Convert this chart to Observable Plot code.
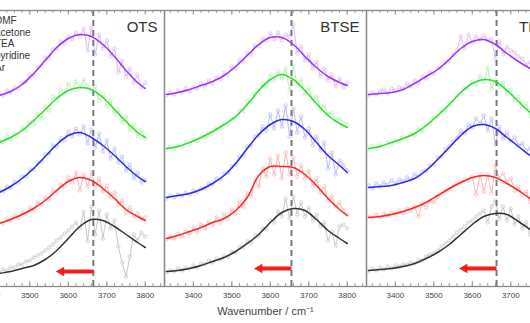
<!DOCTYPE html>
<html><head><meta charset="utf-8">
<script src="https://cdn.jsdelivr.net/npm/d3@7"></script>
<script src="https://cdn.jsdelivr.net/npm/@observablehq/plot@0.6"></script>
<style>
html,body{margin:0;padding:0;background:#fff;}
#wrap{position:relative;width:530px;height:323px;overflow:hidden;background:#fff;}
#wrap svg{position:absolute;top:0;}
</style></head><body><div id="wrap"></div>
<script>
// ---- data ----
const solvents = ["DMF", "acetone", "TEA", "pyridine", "Ar"];
const panelNames = ["OTS", "BTSE", "TMCS"];
const refPeak = [3665, 3655, 3663];      // dashed reference line (cm-1)
const arrowLevel = [15, 18, 18];         // arrow height (a.u.)
const arrowShift = 97;                   // arrow length (cm-1)
const tickLabels = [3400, 3500, 3600, 3700, 3800];
const axisTitle = "Wavenumber / cm\u207B\u00B9";

const wn = [3330,3340,3350,3360,3370,3380,3390,3400,3410,3420,3430,3440,3450,3460,3470,3480,3490,3500,3510,3520,3530,3540,3550,3560,3570,3580,3590,3600,3610,3620,3630,3640,3650,3660,3670,3680,3690,3700,3710,3720,3730,3740,3750,3760,3770,3780,3790,3800];
const fitWn = [3330,3360,3390,3420,3450,3480,3510,3540,3570,3600,3630,3660,3690,3720,3750,3780,3800];

// OTS measured
const otsDMF = [184,188,186,189,187,190,188,192,189,193,191,196,194,199,198,204,205,212,211,219,221,229,228,237,238,245,243,250,247,254,250,258,236,259,232,252,238,246,230,238,214,226,210,218,204,212,199,204];
const otsAcetone = [134,138,135,139,137,141,138,143,141,147,144,150,147,153,152,159,156,165,162,173,168,180,176,190,186,197,192,203,196,205,199,207,201,195,200,186,192,180,186,172,177,164,170,156,162,150,156,148];
const otsTEA = [85,88,86,89,87,91,89,93,92,96,95,100,99,105,104,110,110,117,117,124,125,132,133,141,140,148,146,155,150,158,152,160,143,157,139,153,135,146,128,138,124,130,116,122,108,114,104,106];
const otsPyridine = [55,59,56,60,58,61,59,63,61,65,63,68,66,71,69,74,73,79,77,84,82,89,88,96,95,102,100,109,104,114,96,112,100,115,99,108,95,101,89,94,82,86,74,79,70,73,68,69];
const otsAr = [9,7,10,8,11,10,13,12,15,14,17,16,19,19,22,22,25,26,29,31,33,36,39,42,46,49,53,56,60,64,58,75,45,80,52,76,48,72,58,66,40,24,10,30,52,46,54,50];
// OTS fits
const otsDMFfit = [186,187,189,191,195,202,213,226,239,248,252,250,242,230,216,204,198];
const otsAcetoneFit = [136,137,140,144,149,156,166,177,188,196,199,197,189,177,165,154,149];
const otsTEAfit = [86,87,90,94,100,108,118,130,142,151,154,149,141,131,120,110,105];
const otsPyridineFit = [57,58,60,63,67,72,78,86,96,105,109,106,98,88,77,70,66];
const otsArFit = [8,9,11,13,15,18,21,27,36,48,60,67,66,60,52,44,39];

// BTSE measured
const btseDMF = [191,194,192,196,194,198,195,199,198,203,200,206,203,209,207,214,212,220,218,227,225,234,232,241,240,248,246,253,247,254,246,252,250,262,233,240,226,232,218,225,210,218,206,212,200,208,199,204];
const btseAcetone = [137,140,138,141,140,144,142,147,145,150,149,154,153,158,158,163,162,168,167,176,175,185,184,193,195,203,200,212,206,215,208,218,196,221,201,207,193,199,186,190,178,181,172,174,166,168,164,162];
const btseTEA = [88,91,89,92,91,94,92,96,95,98,98,103,102,108,107,113,114,120,122,130,131,140,141,150,151,160,156,172,158,176,160,181,150,178,154,170,149,158,141,150,136,144,118,134,112,126,121,116];
const btsePyridine = [47,50,48,53,50,55,52,59,54,62,58,65,61,69,64,72,68,77,73,85,80,93,90,106,100,118,110,128,112,131,108,134,112,129,110,121,108,116,100,108,94,100,86,90,80,84,76,72];
const btseAr = [14,16,15,18,16,19,18,21,19,23,22,26,24,28,27,31,30,35,34,40,39,45,44,51,51,58,57,66,64,75,70,88,68,90,72,84,70,79,66,72,60,64,46,55,41,60,62,58];
// BTSE fits
const btseDMFfit = [192,194,197,201,205,211,220,231,242,249,249,242,230,219,210,204,201];
const btseAcetoneFit = [138,140,144,149,155,162,170,182,196,207,212,207,196,183,171,163,159];
const btseTEAfit = [89,91,93,97,103,111,123,138,152,162,167,165,157,144,131,121,114];
const btsePyridineFit = [48,51,55,59,64,68,76,89,111,120,120,119,112,101,88,77,71];
const btseArFit = [15,16,18,21,25,29,35,43,52,64,74,78,76,67,56,48,43];

// TMCS measured
const tmcsDMF = [191,194,192,195,197,193,198,196,199,198,203,200,206,204,210,208,214,213,218,219,224,226,232,236,250,238,252,244,250,247,251,246,248,228,245,232,240,236,234,230,228,222,224,212,218,210,212,207];
const tmcsAcetone = [137,140,138,141,140,144,142,146,145,149,148,152,151,157,155,162,162,169,170,176,176,183,185,191,193,198,199,205,202,210,204,219,198,207,199,204,193,197,186,190,179,183,171,175,168,171,163,165];
const tmcsTEA = [101,98,103,100,104,102,106,103,107,105,109,107,112,110,115,116,121,122,129,130,137,140,145,148,155,153,162,159,168,163,171,156,168,142,160,148,154,146,149,141,143,136,138,130,133,126,128,121];
const tmcsPyridine = [70,68,72,69,73,71,74,72,76,73,78,75,80,70,83,79,86,84,90,92,95,97,100,103,104,107,106,110,92,112,95,112,93,121,108,113,104,108,96,100,92,95,85,90,82,86,78,80];
const tmcsAr = [15,18,16,19,17,20,18,21,20,22,22,24,23,27,26,30,32,33,36,40,43,46,50,54,57,60,64,66,70,73,76,64,80,86,68,80,66,78,62,70,58,64,52,58,47,50,44,42];
// TMCS fits
const tmcsDMFfit = [192,193,194,197,203,210,217,227,238,245,247,242,233,225,218,210,206];
const tmcsAcetoneFit = [138,140,144,148,153,161,171,182,194,203,207,205,196,185,174,166,161];
const tmcsTEAfit = [99,100,101,104,108,116,127,139,151,160,162,158,149,140,131,124,119];
const tmcsPyridineFit = [69,70,72,75,79,84,91,98,104,109,111,109,103,96,88,81,76];
const tmcsArFit = [16,17,18,20,23,28,34,42,52,62,70,73,72,65,57,48,42];

// ---- styling / layout ----
const fitColors = ["#9933ff", "#2fdc2f", "#2b2bee", "#ff2626", "#333333"];
const rawColors = ["#d6b0ff", "#a8f0a8", "#b0b0ff", "#ffaaaa", "#c2c2c2"];
const panelLeft = [-38, 164, 366];
const panelWidth = 202;
const arrowColor = "#ff1a1a";
const frameColor = "#8a8a8a";
const font = "'Liberation Sans', Arial, Helvetica, sans-serif";

const rawSets = [
  [otsDMF, otsAcetone, otsTEA, otsPyridine, otsAr],
  [btseDMF, btseAcetone, btseTEA, btsePyridine, btseAr],
  [tmcsDMF, tmcsAcetone, tmcsTEA, tmcsPyridine, tmcsAr]
];
const fitSets = [
  [otsDMFfit, otsAcetoneFit, otsTEAfit, otsPyridineFit, otsArFit],
  [btseDMFfit, btseAcetoneFit, btseTEAfit, btsePyridineFit, btseArFit],
  [tmcsDMFfit, tmcsAcetoneFit, tmcsTEAfit, tmcsPyridineFit, tmcsArFit]
];
const minorTicks = d3.range(3340, 3850, 20);
const majorTicks = tickLabels;

const wrap = document.getElementById("wrap");

panelNames.forEach((name, p) => {
  const marks = [];
  marks.push(Plot.ruleX(minorTicks, {x: d => d, stroke: frameColor, strokeWidth: 0.8, insetTop: 273}));
  marks.push(Plot.ruleX(minorTicks, {x: d => d, stroke: frameColor, strokeWidth: 0.8, insetBottom: 273}));
  marks.push(Plot.ruleX(majorTicks, {x: d => d, stroke: frameColor, strokeWidth: 0.8, insetTop: 271}));
  marks.push(Plot.ruleX(majorTicks, {x: d => d, stroke: frameColor, strokeWidth: 0.8, insetBottom: 271}));

  solvents.forEach((s, i) => {
    const rows = rawSets[p][i].map((v, j) => ({x: wn[j], y: v}));
    marks.push(Plot.line(rows, {x: "x", y: "y", stroke: rawColors[i], strokeWidth: 0.9}));
    marks.push(Plot.dot(rows, {x: "x", y: "y", r: 1.7, stroke: rawColors[i], strokeWidth: 0.7, fill: "white", fillOpacity: 0.4}));
  });

  marks.push(Plot.ruleX([refPeak[p]], {x: d => d, stroke: "#7a7a7a", strokeWidth: 2, strokeDasharray: "6,4"}));

  solvents.forEach((s, i) => {
    const rows = fitSets[p][i].map((v, j) => ({x: fitWn[j], y: v}));
    marks.push(Plot.line(rows, {x: "x", y: "y", stroke: fitColors[i], strokeWidth: 1.5, curve: "catmull-rom"}));
  });

  const arr = [{peak: refPeak[p], tip: refPeak[p] - arrowShift, level: arrowLevel[p]}];
  marks.push(Plot.link(arr, {x1: "peak", x2: d => d.tip + 17, y1: "level", y2: "level", stroke: arrowColor, strokeWidth: 4}));
  marks.push(Plot.dot(arr, {x: d => d.tip + 14, y: "level", symbol: "triangle", rotate: -90, r: 3.6, fill: arrowColor, stroke: "none"}));

  marks.push(Plot.frame({stroke: frameColor, strokeWidth: 1.3}));
  marks.push(Plot.axisX(tickLabels, {anchor: "bottom", tickSize: 0, tickPadding: 6, fontSize: 8, label: null, tickFormat: d => String(d)}));

  marks.push(Plot.text([name], {frameAnchor: "top-right", dx: -7, dy: 17, lineAnchor: "middle", textAnchor: "end", fontSize: 15, fill: "#333"}));

  if (p === 0) {
    marks.push(Plot.text([solvents.join("\n")], {frameAnchor: "top-left", dx: 32.5, dy: 5, lineAnchor: "top", textAnchor: "start", lineHeight: 1.18, fontSize: 10, fill: "#333"}));
  }
  if (p === 1) {
    marks.push(Plot.text([axisTitle], {frameAnchor: "bottom", dy: 25, lineAnchor: "middle", fontSize: 11, fill: "#444"}));
  }

  const svg = Plot.plot({
    width: panelWidth, height: 323,
    marginLeft: 0, marginRight: 0, marginTop: 10, marginBottom: 37,
    x: {domain: [3325, 3850], axis: null},
    y: {domain: [0, 276], axis: null},
    style: {fontFamily: font, fontSize: "8px", color: "#444", background: "transparent", overflow: "visible"},
    marks
  });
  svg.style.left = panelLeft[p] + "px";
  wrap.appendChild(svg);
});
</script>
</body></html>
